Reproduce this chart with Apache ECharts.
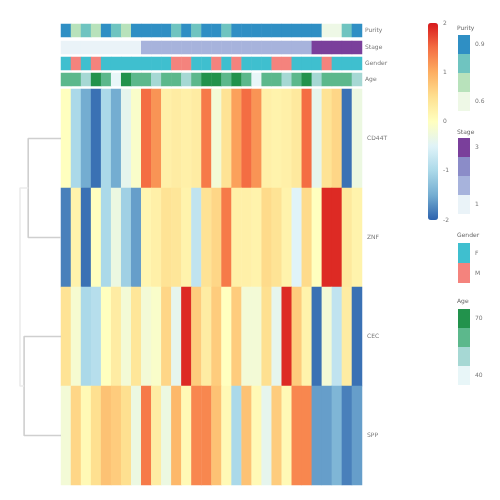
<!DOCTYPE html>
<html>
<head>
<meta charset="utf-8">
<script src="https://cdn.jsdelivr.net/npm/echarts@6/dist/echarts.min.js"></script>
<style>html,body{margin:0;padding:0;background:#fff}#c{width:500px;height:500px}</style>
</head>
<body>
<div id="c"></div>
<script>
const samples = ['S01','S02','S03','S04','S05','S06','S07','S08','S09','S10','S11','S12','S13','S14','S15','S16','S17','S18','S19','S20','S21','S22','S23','S24','S25','S26','S27','S28','S29','S30'];
const genes = ['CD44T','ZNF','CEC','SPP'];
const expr0 = [0.0,-1.0,-1.5,-1.9,-1.0,-1.5,-0.4,-0.1,1.5,1.2,0.25,0.3,0.25,0.3,1.4,-0.2,0.45,1.1,1.5,1.2,0.25,0.2,0.25,0.35,1.5,-0.4,0.45,0.6,-1.9,-0.3];
const expr1 = [-1.8,0.2,-1.9,0.0,-1.0,-0.3,-1.1,-1.6,0.15,0.25,0.45,0.4,0.2,-0.8,0.45,0.6,1.4,0.25,0.25,0.2,0.55,0.45,0.2,-0.5,0.55,0.0,1.9,1.9,0.35,0.2];
const expr2 = [0.45,-0.15,-1.0,-0.9,0.0,0.3,-0.2,0.4,-0.2,-0.1,0.6,-0.4,1.9,0.7,0.3,0.7,0.0,0.7,-0.2,-0.2,0.5,-0.4,1.9,0.7,0.2,-1.9,-0.2,-0.8,0.3,-1.9];
const expr3 = [-0.2,0.6,0.1,0.5,0.8,0.7,0.5,-0.3,1.4,0.3,-0.3,0.9,0.1,1.3,1.3,0.8,0.1,-1.0,0.8,0.1,-0.4,0.7,0.1,1.3,1.3,-1.6,-1.6,-1.4,-1.8,-1.6];
const purity = [0.92,0.7,0.8,0.68,0.9,0.8,0.7,0.9,0.9,0.9,0.9,0.8,0.9,0.8,0.9,0.9,0.78,0.9,0.9,0.9,0.9,0.9,0.9,0.9,0.9,0.9,0.55,0.55,0.8,0.9];
const stage = [1,1,1,1,1,1,1,1,2,2,2,2,2,2,2,2,2,2,2,2,2,2,2,2,2,3,3,3,3,3];
const gender = [0,1,0,1,0,0,0,0,0,0,0,1,1,0,0,1,0,1,0,0,0,1,1,0,0,0,1,0,0,0];
const age = [63,63,52,75,63,42,75,63,63,52,63,63,52,63,75,75,63,75,63,42,63,63,52,63,75,52,63,63,63,52];
const annoNames = ['Purity','Stage','Gender','Age'];
const colorTicks = [2,1,0,-1,-2];
// hclust-style merges: negative = leaf (1-based), positive = earlier merge
const merges = [[-1,-2,0.80],[-3,-4,0.90],[1,2,1.0]];

const expr = [expr0,expr1,expr2,expr3];
const heatData = [];
expr.forEach((row,r)=>row.forEach((v,c)=>heatData.push([c,r,v])));
const track = arr => arr.map((v,c)=>[c,0,v]);

const mergeY = [], mergeH = [];
function pos(idx){ return idx<0 ? [-idx-1+0.5, 0] : [mergeY[idx-1], mergeH[idx-1]]; }
const dendroSeries = merges.map((m,i)=>{
  const a = pos(m[0]), b = pos(m[1]);
  mergeY.push((a[0]+b[0])/2); mergeH.push(m[2]);
  return {type:'line', xAxisIndex:5, yAxisIndex:5, clip:false, symbol:'none', silent:true,
    lineStyle:{color: i===2 ? '#ececec' : '#cfcfcf', width:1.6},
    data:[[a[1],a[0]],[m[2],a[0]],[m[2],b[0]],[b[1],b[0]]]};
});

const lab = {fontSize:6, color:'#777', fontFamily:'DejaVu Sans'};
const gridL = 61, gridW = 301;
const annoTops = [24,41,57,73], annoH = [13,13,13,13];
const grids = [{left:gridL, top:89, width:gridW, height:396}];
annoTops.forEach((t,i)=>grids.push({left:gridL, top:t, width:gridW, height:annoH[i]}));
grids.push({left:20, top:89, width:41, height:396});
grids.push({left:428, top:23, width:10, height:197});

const xAxes = [], yAxes = [];
for (let i=0;i<5;i++){
  xAxes.push({type:'category', gridIndex:i, data:samples, show:false});
}
yAxes.push({type:'category', gridIndex:0, data:genes, inverse:true, position:'right',
  axisLine:{show:false}, axisTick:{show:false}, axisLabel:Object.assign({margin:5}, lab)});
annoNames.forEach((n,i)=>yAxes.push({type:'category', gridIndex:i+1, data:[n], position:'right',
  axisLine:{show:false}, axisTick:{show:false}, axisLabel:Object.assign({margin:3}, lab)}));
xAxes.push({type:'value', gridIndex:5, min:0, max:1, inverse:true, show:false});
yAxes.push({type:'value', gridIndex:5, min:0, max:4, inverse:true, show:false});
xAxes.push({type:'value', gridIndex:6, show:false, min:0, max:1});
yAxes.push({type:'value', gridIndex:6, min:-2, max:2, interval:1, position:'right',
  axisLine:{show:false}, axisTick:{show:false}, splitLine:{show:false},
  axisLabel:Object.assign({margin:5}, lab)});

const pw = {type:'piecewise', orient:'vertical', left:458, align:'left', itemWidth:12, itemHeight:19, itemGap:0,
  itemSymbol:'rect', padding:0, textGap:5, hoverLink:false, selectedMode:false, textStyle:lab};

const option = {
  animation:false,
  title:[
    {text:'Purity', left:457, top:25},
    {text:'Stage', left:457, top:129},
    {text:'Gender', left:457, top:232},
    {text:'Age', left:457, top:298}
  ].map(t=>Object.assign(t,{padding:0, textStyle:{fontSize:6, color:'#666', fontWeight:'normal', fontFamily:'DejaVu Sans'}})),
  grid:grids, xAxis:xAxes, yAxis:yAxes,
  visualMap:[
    {type:'continuous', seriesIndex:0, min:-2, max:2, left:428, top:23, itemWidth:10, itemHeight:197,
     padding:0, calculable:false, text:null, showLabel:false, hoverLink:false,
     inRange:{color:['#2c62ad','#74add1','#abd9e9','#e0f3f8','#ffffbf','#fee090','#fdae61','#f46d43','#d7191c']}},
    Object.assign({}, pw, {seriesIndex:1, top:35, pieces:[
      {min:0.85, max:1.0, color:'#2f8fc4', label:'0.9'},
      {min:0.75, max:0.85, color:'#6fc4c0', label:' '},
      {min:0.62, max:0.75, color:'#b8e2bb', label:' '},
      {min:0.0, max:0.62, color:'#eef8e6', label:'0.6'}]}),
    Object.assign({}, pw, {seriesIndex:2, top:138, pieces:[
      {min:3.5, max:4, color:'#7a3f9b', label:'3'},
      {min:2.5, max:3.5, color:'#8b8cc8', label:' '},
      {min:1.5, max:2.5, color:'#a7b3dc', label:' '},
      {min:0, max:1.5, color:'#eaf3f8', label:'1'}]}),
    Object.assign({}, pw, {seriesIndex:3, top:243, itemHeight:20, inverse:true, pieces:[
      {min:-0.5, max:0.5, color:'#3fbfcf', label:'F'},
      {min:0.5, max:1.5, color:'#f4837d', label:'M'}]}),
    Object.assign({}, pw, {seriesIndex:4, top:309, pieces:[
      {min:70, max:100, color:'#22924c', label:'70'},
      {min:58, max:70, color:'#5cb88c', label:' '},
      {min:48, max:58, color:'#a6d8d4', label:' '},
      {min:0, max:48, color:'#e8f6f8', label:'40'}]})
  ],
  series:[
    {type:'heatmap', xAxisIndex:0, yAxisIndex:0, data:heatData, silent:true},
    {type:'heatmap', xAxisIndex:1, yAxisIndex:1, data:track(purity), silent:true},
    {type:'heatmap', xAxisIndex:2, yAxisIndex:2, data:track(stage.map(v=>v===3?4:v)), silent:true},
    {type:'heatmap', xAxisIndex:3, yAxisIndex:3, data:track(gender), silent:true},
    {type:'heatmap', xAxisIndex:4, yAxisIndex:4, data:track(age), silent:true}
  ].concat(dendroSeries)
};
const chart = echarts.init(document.getElementById('c'), null, {renderer:'canvas'});
chart.setOption(option);
</script>
</body>
</html>
